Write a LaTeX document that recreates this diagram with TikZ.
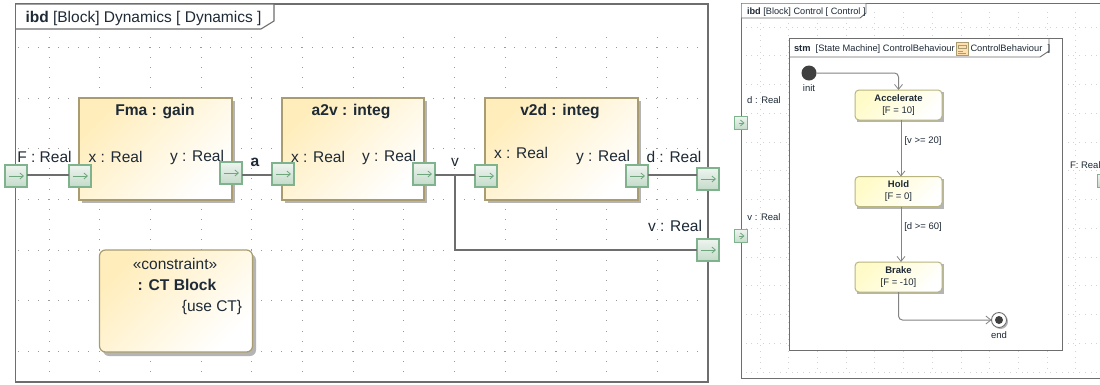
\documentclass[tikz,border=0pt]{standalone}
\usepackage{fontspec}
\setmainfont{Liberation Sans}
\usetikzlibrary{arrows.meta}
\definecolor{dotc}{HTML}{9A9A9A}
\definecolor{framec}{HTML}{6E6E6E}
\definecolor{txt}{HTML}{1E2A36}
\definecolor{blockb}{HTML}{A89C70}
\definecolor{blockf}{HTML}{FFEDBB}
\definecolor{blocke}{HTML}{FFFFFF}
\definecolor{stateb}{HTML}{B8B57E}
\definecolor{statef}{HTML}{FFFBC8}
\definecolor{portb}{HTML}{7FB38D}
\definecolor{portt}{HTML}{EEF4EF}
\definecolor{portl}{HTML}{C3DBC9}
\definecolor{porta}{HTML}{6FA67E}
\definecolor{shad}{HTML}{B4B4B4}
\tikzset{
  every node/.style={inner sep=0pt,outer sep=0pt,text=txt},
  frameline/.style={draw=framec,line width=1.1pt,line join=miter},
  wire/.style={draw=framec,line width=1.1pt},
  trans/.style={draw=framec!85,line width=1pt,rounded corners=4pt,-{Straight Barb[length=5pt,width=8pt,line width=0.8pt]}},
  lab/.style={font=\fontsize{15.5}{18}\selectfont},
  blab/.style={font=\fontsize{15.6}{18}\selectfont\bfseries},
  slab/.style={font=\fontsize{9.5}{11}\selectfont},
  sblab/.style={font=\fontsize{9.5}{11}\selectfont\bfseries},
  blockbox/.style={rectangle,minimum width=#1,minimum height=102pt,draw=blockb,line width=1.2pt,
    top color=blockf,bottom color=blocke,shading angle=45},
  consbox/.style={rectangle,rounded corners=6pt,minimum width=153pt,minimum height=102pt,draw=blockb,line width=1.2pt,
    top color=blockf,bottom color=blocke,shading angle=45},
  statebox/.style={rectangle,rounded corners=4pt,minimum width=87pt,minimum height=30pt,draw=stateb,line width=1pt,
    top color=statef,bottom color=white,shading angle=45},
  portbox/.style={rectangle,minimum width=22pt,minimum height=22pt,draw=portb,line width=1.1pt,
    top color=portt,bottom color=portl,
    path picture={\draw[porta,line width=1pt,-{Straight Barb[length=3.5pt,width=6pt,line width=0.8pt]}]
      ([xshift=4pt]path picture bounding box.west) -- ([xshift=-3pt]path picture bounding box.east);}},
  sport/.style={portbox,minimum width=13pt,minimum height=13pt},
}
\begin{document}
\begin{tikzpicture}[x=1pt,y=-1pt]
\useasboundingbox (0,0) rectangle (1100,384);
\fill[white] (0,0) rectangle (1100,384);
% grid left
\foreach \c in {0,...,13}{
  \pgfmathsetmacro{\gx}{49+50.7*\c}
  \foreach \r in {0,...,34}{
    \pgfmathsetmacro{\gy}{37+10.14*\r}
    \fill[dotc] (\gx-0.5,\gy-0.5) rectangle +(1,1);
  }
}
\foreach \r in {0,...,6}{
  \pgfmathsetmacro{\gy}{47.3+50.7*\r}
  \foreach \c in {0,...,67}{
    \pgfmathsetmacro{\gx}{18+10.14*\c}
    \fill[dotc] (\gx-0.5,\gy-0.5) rectangle +(1,1);
  }
}
% grid right
\foreach \c in {0,...,11}{
  \pgfmathsetmacro{\gx}{760+28.7*\c}
  \foreach \r in {0,...,62}{
    \pgfmathsetmacro{\gy}{12+5.75*\r}
    \fill[dotc!45] (\gx-0.4,\gy-0.4) rectangle +(0.8,0.8);
  }
}
\foreach \r in {0,...,12}{
  \pgfmathsetmacro{\gy}{27+28.75*\r}
  \foreach \c in {0,...,61}{
    \pgfmathsetmacro{\gx}{746+5.75*\c}
    \fill[dotc!45] (\gx-0.4,\gy-0.4) rectangle +(0.8,0.8);
  }
}
% left frame
\draw[frameline] (15.5,382) -- (15.5,4) -- (708,4) -- (708,382) -- cycle;
\fill[white] (16,4.5) -- (274,4.5) -- (274,21) -- (261,29) -- (16,29) -- cycle;
\draw[frameline] (15.5,29) -- (261,29) -- (274,21) -- (274,4);
\node[anchor=base west,font=\fontsize{15.5}{18}\selectfont] (t1) at (25.5,22) {\textbf{ibd}\ [Block] Dynamics [ Dynamics ]};
% right frame
\draw[frameline,line width=0.9pt] (1100,3) -- (741,3) -- (741,378) -- (1100,378);
\fill[white] (741.5,3.5) -- (866,3.5) -- (866,13) -- (860,18) -- (741.5,18) -- cycle;
\draw[frameline,line width=0.9pt] (741,18) -- (860,18) -- (866,13) -- (866,3);
\node[anchor=base west,font=\fontsize{9.2}{11}\selectfont] (t2) at (747,14) {\textbf{ibd}\ [Block] Control [ Control ]};
% stm frame
\fill[white] (789,38) rectangle (1062,350);
\draw[frameline,line width=0.9pt] (789,38) rectangle (1062,350);
\draw[frameline,line width=0.9pt] (789,57) -- (1040,57) -- (1049,51) -- (1049,38);
\node[anchor=base west,font=\fontsize{9.3}{11}\selectfont] (t3) at (794,51) {\textbf{stm}\ \ [State Machine] ControlBehaviour [};
\node[anchor=base west,font=\fontsize{9.3}{11}\selectfont] (t4) at (970.5,51) {ControlBehaviour\ \ ]};
\fill[statef!60!orange!60!white,draw=blockb,line width=0.5pt] (956,42.5) rectangle (968,55);
\draw[blockb,line width=0.5pt] (958,45) rectangle (966,48) (958,51) -- (963,51) (958,53) -- (966,53);
% left blocks
\foreach \bx/\bw in {82/153,285/142,488/153}{\fill[shad] (\bx,101) rectangle +(\bw,102);}
\node[blockbox=153pt] (Fma) at (155.5,149) {};
\node[blockbox=142pt] (a2v) at (353,149) {};
\node[blockbox=153pt] (v2d) at (561.5,149) {};
\fill[shad,rounded corners=6pt] (103,254) rectangle +(153,102);
\node[consbox] (ct) at (176,301) {};
\node[blab] (tFma) at (155,111) {Fma : gain};
\node[blab] (ta2v) at (351,111) {a2v : integ};
\node[blab] (tv2d) at (560,111) {v2d : integ};
\node[lab] (tcons) at (175,264) {«constraint»};
\node[blab] (tct) at (177,285) {: CT Block};
\node[lab] (tuse) at (212,307) {\{use CT\}};
\node[lab] (lF) at (44.5,157) {F : Real};
\node[lab] (lFx) at (115.5,157) {x : Real};
\node[lab] (lFy) at (197,157) {y : Real};
\node[lab] (la2vx) at (318,157) {x : Real};
\node[lab] (la2vy) at (389,157) {y : Real};
\node[lab] (lv2dx) at (521,153) {x : Real};
\node[lab] (lv2dy) at (603,157) {y : Real};
\node[lab] (ld) at (674,157) {d : Real};
\node[lab] (lv) at (675,226) {v : Real};
\node[blab] (la) at (255,162) {a};
\node[lab] (lvv) at (455,162) {v};
% left ports
\node[portbox] (pF) at (16,176) {};
\node[portbox] (pFx) at (80,176) {};
\node[portbox] (pFy) at (231,173) {};
\node[portbox] (pAx) at (283,174) {};
\node[portbox] (pAy) at (424,174) {};
\node[portbox] (pVx) at (486,176) {};
\node[portbox] (pVy) at (637,176) {};
\node[portbox] (pd) at (708,179) {};
\node[portbox] (pv) at (708,250) {};
\coordinate (vj) at (455,175);
\draw[wire] ([yshift=1pt]pF.east) -- ([yshift=1pt]pFx.west);
\draw[wire] ([yshift=-2pt]pFy.east) -- ([yshift=-1pt]pAx.west);
\draw[wire] ([yshift=-1pt]pAy.east) -- (vj) -- ([yshift=1pt]pVx.west);
\draw[wire] ([yshift=1pt]pVy.east) -- ([yshift=4pt]pd.west);
\draw[wire] (vj) |- (pv.west);
% state machine
\fill[black!75] (809,73) circle (7.5);
\node[circle,minimum size=15pt] (init) at (809,73) {};
\node[slab] (linit) at (809,88) {init};
\foreach \sy in {92,179,264}{\fill[shad] (857,\sy) rectangle +(87,30);}
\node[statebox] (acc) at (898.5,105) {};
\node[statebox] (hold) at (898.5,191.5) {};
\node[statebox] (brake) at (898.5,277) {};
\node[sblab] (tacc) at (898.5,98) {Accelerate};
\node[slab] (facc) at (898.5,111) {[F = 10]};
\node[sblab] (thold) at (898.5,184) {Hold};
\node[slab] (fhold) at (898.5,197) {[F = 0]};
\node[sblab] (tbrake) at (898.5,270) {Brake};
\node[slab] (fbrake) at (898.5,283) {[F = -10]};
\fill[shad] (1000.5,321.5) circle (7.5);
\node[circle,draw=framec,line width=0.9pt,fill=white,minimum size=15pt] (endn) at (999,320) {};
\fill[black!75] (endn.center) circle (4);
\node[slab] (lend) at (999,335) {end};
\draw[trans] (init.east) -| (acc.north);
\draw[trans] ([xshift=2.5pt]acc.south) -- ([xshift=2.5pt]hold.north);
\draw[trans] ([xshift=2.5pt]hold.south) -- ([xshift=2.5pt]brake.north);
\draw[trans] (brake.south) |- (endn.west);
\node[slab] (g1) at (923,141) {[v >= 20]};
\node[slab] (g2) at (923,227) {[d >= 60]};
% right ports
\node[slab] (ld2) at (764,100) {d : Real};
\node[slab] (lv2) at (764,217) {v : Real};
\node[slab,anchor=west] (lF2) at (1070,165) {F: Real};
\node[sport] (pd2) at (741,123) {};
\node[sport] (pv2) at (741,236) {};
\node[sport] (pF2) at (1104,181) {};
\end{tikzpicture}
\end{document}
